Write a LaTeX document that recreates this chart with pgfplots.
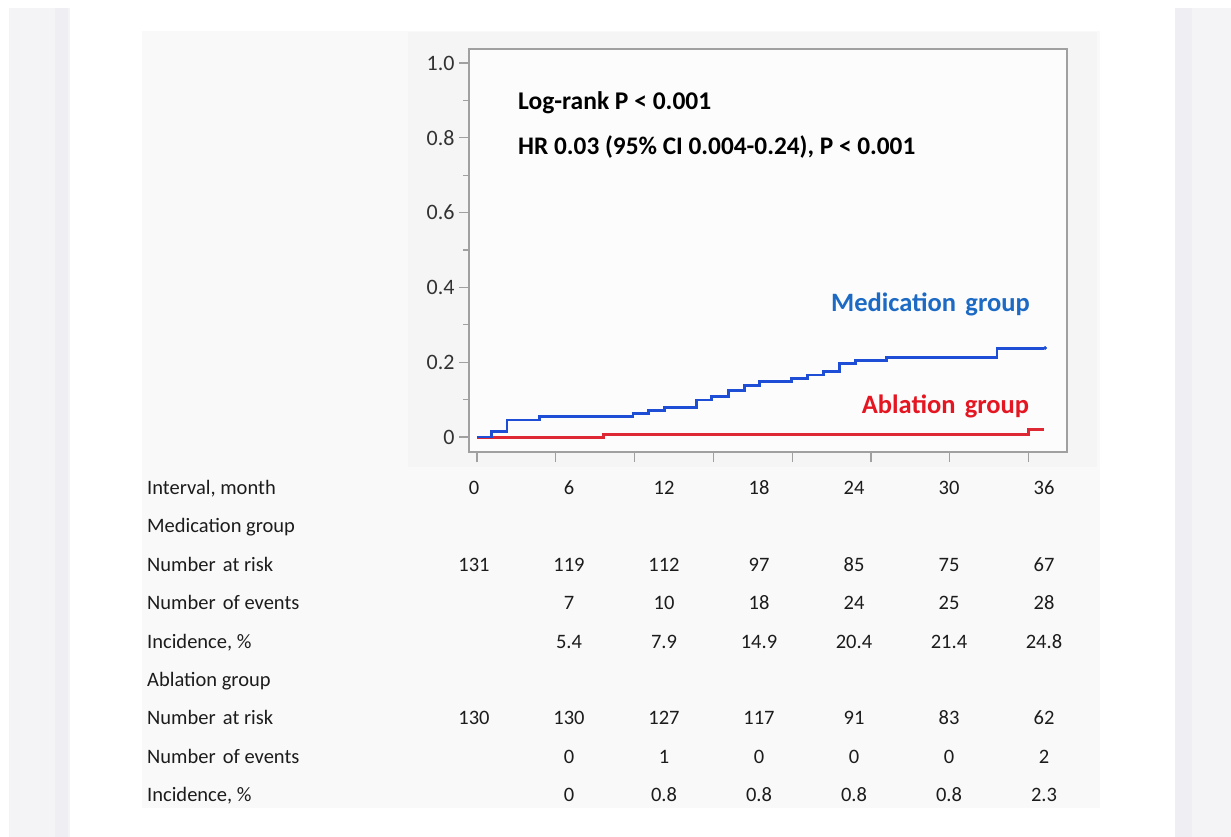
\documentclass[border=0pt]{standalone}
\usepackage{pgfplots}
\pgfplotsset{compat=1.18}
\usepackage{fontspec}
\setmainfont{Carlito}
\definecolor{medline}{RGB}{31,78,214}
\definecolor{medtext}{RGB}{28,106,196}
\definecolor{ablline}{RGB}{222,40,52}
\definecolor{abltext}{RGB}{228,22,34}
\definecolor{stripgray}{RGB}{244,244,246}
\definecolor{stripband}{RGB}{238,238,243}
\definecolor{panel}{RGB}{249,249,249}
\definecolor{plotpanel}{RGB}{245,245,245}
\definecolor{inner}{RGB}{252,252,252}
\definecolor{framegray}{RGB}{160,160,160}
\definecolor{tickgray}{RGB}{50,50,50}
\definecolor{tabtext}{RGB}{28,28,28}
\newcommand\tabfont{\fontsize{20.5}{24}\selectfont}
\newcommand\tabrow[3]{%
  \node[anchor=base west, inner sep=0pt, text=tabtext, font=\tabfont] at (147pt,{-(494.5pt+38.4pt*#1)}) {#2};
  \foreach \v [count=\i from 0] in {#3} {
    \node[anchor=base, inner sep=0pt, text=tabtext, font=\tabfont] at ({474pt+95pt*\i},{-(494.5pt+38.4pt*#1)}) {\v};
  }%
}
\begin{document}
\begin{tikzpicture}
\useasboundingbox (0pt,0pt) rectangle (1231pt,-837pt);
\fill[white] (0pt,0pt) rectangle (1231pt,-837pt);
\fill[stripgray] (9pt,-8pt) rectangle (70pt,-837pt);
\fill[stripband] (55pt,-8pt) rectangle (68pt,-837pt);
\fill[stripgray] (1175pt,-8pt) rectangle (1231pt,-837pt);
\fill[stripband] (1175pt,-8pt) rectangle (1192pt,-837pt);
\fill[panel] (142pt,-31pt) rectangle (1100pt,-808pt);
\fill[plotpanel] (408pt,-32pt) rectangle (1097pt,-467pt);
\begin{axis}[
  at={(469pt,-452pt)}, anchor=south west, scale only axis,
  width=598pt, height=403pt,
  xmin=-0.508, xmax=37.44, ymin=-0.040, ymax=1.0374,
  axis background/.style={fill=inner},
  axis line style={draw=framegray, line width=1.3pt},
  xtick={0,5,...,35}, xticklabel={\empty},
  ytick={0,0.2,0.4,0.6,0.8,1.0}, yticklabels={0,0.2,0.4,0.6,0.8,1.0},
  minor ytick={0.1,0.3,0.5,0.7,0.9},
  xtick pos=left, ytick pos=left, tick align=outside,
  major tick length=10pt, minor tick length=6pt,
  every tick/.style={draw=framegray, line width=1.2pt},
  yticklabel style={font=\fontsize{22}{26}\selectfont, text=tickgray, xshift=-1pt},
  clip=false,
]
\addplot[const plot, color=ablline, line width=3pt] coordinates {
  (0,0) (8,0.0077) (35,0.021) (36,0.021)};
\addplot[const plot, color=medline, line width=2.8pt] coordinates {
  (0,0) (0.92,0.0153) (1.9,0.0458) (3.95,0.054) (9.9,0.062) (10.9,0.070)
  (11.9,0.079) (13.95,0.099) (14.9,0.108) (15.96,0.125) (16.95,0.137)
  (17.94,0.149) (19.98,0.157) (20.98,0.166) (21.97,0.175) (23,0.196)
  (24,0.204) (26,0.213) (33,0.237) (36,0.237)};
\addplot[only marks, mark=*, mark size=1.7pt, color=medline] coordinates {(36.05,0.238)};
\end{axis}
\node[anchor=base west, inner sep=0pt, font=\bfseries\fontsize{25.5}{30}\selectfont, text=black] at (518pt,-110pt) {Log-rank P < 0.001};
\node[anchor=base west, inner sep=0pt, font=\bfseries\fontsize{25.3}{30}\selectfont, text=black] at (518pt,-155pt) {HR 0.03 (95\% CI 0.004-0.24), P < 0.001};
\node[anchor=base west, inner sep=0pt, font=\bfseries\fontsize{26.5}{30}\selectfont, text=medtext] at (831pt,-311.7pt) {Medication\hspace{0.35em}group};
\node[anchor=base west, inner sep=0pt, font=\bfseries\fontsize{26.5}{30}\selectfont, text=abltext] at (861.7pt,-413pt) {Ablation\hspace{0.35em}group};
\tabrow{0}{Interval, month}{0,6,12,18,24,30,36}
\tabrow{1}{Medication group}{}
\tabrow{2}{Number\hspace{0.35em}at risk}{131,119,112,97,85,75,67}
\tabrow{3}{Number\hspace{0.35em}of events}{{},7,10,18,24,25,28}
\tabrow{4}{Incidence, \%}{{},5.4,7.9,14.9,20.4,21.4,24.8}
\tabrow{5}{Ablation group}{}
\tabrow{6}{Number\hspace{0.35em}at risk}{130,130,127,117,91,83,62}
\tabrow{7}{Number\hspace{0.35em}of events}{{},0,1,0,0,0,2}
\tabrow{8}{Incidence, \%}{{},0,0.8,0.8,0.8,0.8,2.3}
\end{tikzpicture}
\end{document}
